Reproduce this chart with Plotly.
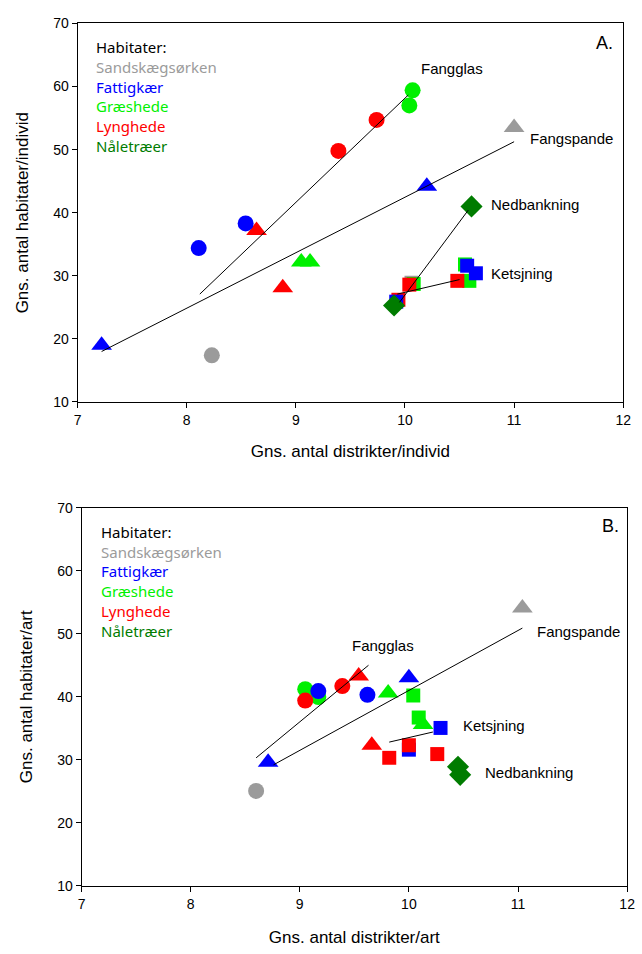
import plotly.graph_objects as go

# ---------------- data ----------------
habitats = ["Sandskægsørken", "Fattigkær", "Græshede", "Lynghede", "Nåletræer"]
hab_colors = {"Sandskægsørken": "#9b9b9b", "Fattigkær": "#0000ff", "Græshede": "#00f000",
              "Lynghede": "#ff0000", "Nåletræer": "#007c00"}

# Panel A (per individual)
A_fangglas_x = [8.23, 8.11, 8.54, 10.04, 10.07, 9.39, 9.74]
A_fangglas_y = [17.4, 34.4, 38.3, 57.0, 59.4, 49.8, 54.7]
A_fangglas_h = ["Sandskægsørken", "Fattigkær", "Fattigkær", "Græshede", "Græshede", "Lynghede", "Lynghede"]

A_fangspande_x = [11.0, 7.22, 10.2, 9.05, 9.13, 8.64, 8.88]
A_fangspande_y = [53.5, 19.0, 44.2, 32.2, 32.2, 37.2, 28.1]
A_fangspande_h = ["Sandskægsørken", "Fattigkær", "Fattigkær", "Græshede", "Græshede", "Lynghede", "Lynghede"]

A_ketsjning_x = [10.06, 10.08, 10.55, 10.59, 9.94, 10.04, 10.48, 9.92, 10.57, 10.65]
A_ketsjning_y = [28.9, 28.7, 31.8, 29.2, 26.2, 28.6, 29.2, 25.9, 31.6, 30.4]
A_ketsjning_h = ["Sandskægsørken", "Græshede", "Græshede", "Græshede", "Lynghede", "Lynghede",
                 "Lynghede", "Fattigkær", "Fattigkær", "Fattigkær"]

A_nedbankning_x = [9.90, 10.61]
A_nedbankning_y = [25.3, 41.0]
A_nedbankning_h = ["Nåletræer", "Nåletræer"]

A_lines = {
    "Fangglas": ([8.12, 10.03], [27.1, 58.65]),
    "Fangspande": ([7.22, 11.0], [18.0, 51.25]),
    "Nedbankning": ([9.95, 10.58], [25.8, 40.4]),
    "Ketsjning": ([9.93, 10.5], [27.1, 29.4]),
}

# Panel B (per species)
B_fangglas_x = [8.6, 9.05, 9.17, 9.17, 9.62, 9.05, 9.39]
B_fangglas_y = [25.05, 41.2, 39.95, 40.9, 40.3, 39.4, 41.7]
B_fangglas_h = ["Sandskægsørken", "Græshede", "Græshede", "Fattigkær", "Fattigkær", "Lynghede", "Lynghede"]

B_fangspande_x = [11.04, 10.0, 8.71, 9.54, 9.66, 9.81]
B_fangspande_y = [54.1, 43.0, 29.6, 43.3, 32.3, 40.6]
B_fangspande_h = ["Sandskægsørken", "Fattigkær", "Fattigkær", "Lynghede", "Lynghede", "Græshede"]

B_ketsjning_x = [10.04, 10.09, 10.29, 10.0, 10.0, 10.26, 9.82]
B_ketsjning_y = [40.2, 36.7, 35.05, 31.6, 32.3, 30.9, 30.3]
B_ketsjning_h = ["Græshede", "Græshede", "Fattigkær", "Fattigkær", "Lynghede", "Lynghede", "Lynghede"]

B_fangspande2_x = [10.13]
B_fangspande2_y = [35.6]
B_fangspande2_h = ["Græshede"]

B_nedbankning_x = [10.45, 10.47]
B_nedbankning_y = [28.9, 27.6]
B_nedbankning_h = ["Nåletræer", "Nåletræer"]

B_lines = {
    "Fangglas": ([8.60, 9.63], [30.3, 45.0]),
    "Fangspande": ([8.76, 11.04], [29.2, 50.9]),
    "Ketsjning": ([9.82, 10.22], [32.8, 34.4]),
}

# method label positions (left edge, centre y)
A_labels = {"Fangglas": (10.13, 62.9), "Fangspande": (11.13, 51.8),
            "Nedbankning": (10.77, 41.3), "Ketsjning": (10.77, 30.4)}
B_labels = {"Fangglas": (9.46, 48.2), "Fangspande": (11.16, 50.4),
            "Ketsjning": (10.48, 35.5), "Nedbankning": (10.68, 27.9)}

# ---------------- figure ----------------
W, H = 642, 954
fig = go.Figure()

FONT = "Liberation Sans, Arial, sans-serif"
LEGFONT = "Noto Sans, sans-serif"


def pts(xs, ys, hs, symbol, size, xa, ya):
    fig.add_trace(go.Scatter(
        x=xs, y=ys, mode="markers", xaxis=xa, yaxis=ya, showlegend=False,
        marker=dict(symbol=symbol, size=size, color=[hab_colors[h] for h in hs],
                    line=dict(width=0)),
        hoverinfo="skip"))


def lines(d, xa, ya):
    for name, (xs, ys) in d.items():
        fig.add_trace(go.Scatter(x=xs, y=ys, mode="lines", xaxis=xa, yaxis=ya,
                                 showlegend=False, line=dict(color="black", width=1),
                                 hoverinfo="skip"))


# Panel A
pts(A_ketsjning_x, A_ketsjning_y, A_ketsjning_h, "square", 14, "x", "y")
pts(A_fangspande_x, A_fangspande_y, A_fangspande_h, "triangle-up", 18, "x", "y")
pts(A_fangglas_x, A_fangglas_y, A_fangglas_h, "circle", 16, "x", "y")
pts(A_nedbankning_x, A_nedbankning_y, A_nedbankning_h, "diamond", 17, "x", "y")
lines(A_lines, "x", "y")

# Panel B
pts(B_ketsjning_x, B_ketsjning_y, B_ketsjning_h, "square", 14, "x2", "y2")
pts(B_fangspande_x, B_fangspande_y, B_fangspande_h, "triangle-up", 18, "x2", "y2")
pts(B_fangspande2_x, B_fangspande2_y, B_fangspande2_h, "triangle-up", 18, "x2", "y2")
pts(B_fangglas_x, B_fangglas_y, B_fangglas_h, "circle", 16, "x2", "y2")
pts(B_nedbankning_x, B_nedbankning_y, B_nedbankning_h, "diamond", 17, "x2", "y2")
lines(B_lines, "x2", "y2")

annotations = []


def labels(d, xref, yref):
    for name, (x, y) in d.items():
        annotations.append(dict(x=x, y=y, xref=xref, yref=yref, text=name, showarrow=False,
                                xanchor="left", yanchor="middle",
                                font=dict(family=FONT, size=15, color="black")))


labels(A_labels, "x", "y")
labels(B_labels, "x2", "y2")


def legend_block(x0, ys, xref, yref):
    items = ["Habitater:"] + habitats
    cols = ["black"] + [hab_colors[h] for h in habitats]
    for t, c, y in zip(items, cols, ys):
        annotations.append(dict(x=x0, y=y, xref=xref, yref=yref, text=t, showarrow=False,
                                xanchor="left", yanchor="middle",
                                font=dict(family=LEGFONT, size=15, color=c)))


legend_block(7.15, [66.3, 63.15, 60.0, 56.85, 53.7, 50.55], "x", "y")
legend_block(7.16, [66.2, 63.05, 59.9, 56.75, 53.6, 50.45], "x2", "y2")

annotations.append(dict(x=11.83, y=66.9, xref="x", yref="y", text="A.", showarrow=False,
                        xanchor="center", yanchor="middle",
                        font=dict(family=FONT, size=18, color="black")))
annotations.append(dict(x=11.85, y=67.1, xref="x2", yref="y2", text="B.", showarrow=False,
                        xanchor="center", yanchor="middle",
                        font=dict(family=FONT, size=18, color="black")))

# axis domains from pixel positions
A_x = [75 / W, 631 / W]
A_y = [1 - 400.7 / H, 1 - 15.7 / H]
B_x = [79 / W, 635 / W]
B_y = [1 - 892.7 / H, 1 - 508.3 / H]

ax_common = dict(showline=True, mirror=True, linecolor="black", linewidth=1,
                 ticks="outside", ticklen=5, tickwidth=1, tickcolor="black",
                 showgrid=False, zeroline=False,
                 tickfont=dict(family=FONT, size=14, color="black"))

fig.update_layout(
    width=W, height=H, margin=dict(l=0, r=0, t=0, b=0),
    paper_bgcolor="white", plot_bgcolor="white", showlegend=False,
    font=dict(family=FONT, color="black"),
    xaxis=dict(domain=A_x, range=[7, 12], dtick=1, anchor="y",
               title=dict(text="Gns. antal distrikter/individ", standoff=18,
                          font=dict(family=FONT, size=17, color="black")), **ax_common),
    yaxis=dict(domain=A_y, range=[10, 70], dtick=10, anchor="x",
               title=dict(text="Gns. antal habitater/individ", standoff=20,
                          font=dict(family=FONT, size=17, color="black")), **ax_common),
    xaxis2=dict(domain=B_x, range=[7, 12], dtick=1, anchor="y2",
                title=dict(text="Gns. antal distrikter/art", standoff=20,
                           font=dict(family=FONT, size=17, color="black")), **ax_common),
    yaxis2=dict(domain=B_y, range=[10, 70], dtick=10, anchor="x2",
                title=dict(text="Gns. antal habitater/art", standoff=20,
                           font=dict(family=FONT, size=17, color="black")), **ax_common),
    annotations=annotations,
)

fig.write_html("out.html")
